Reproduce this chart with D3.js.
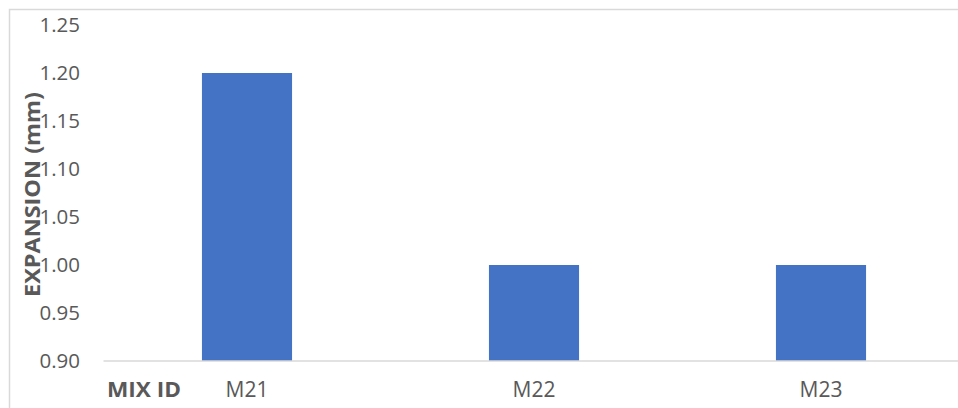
<!DOCTYPE html>
<html>
<head>
<meta charset="utf-8">
<script src="https://cdn.jsdelivr.net/npm/d3@7"></script>
<style>
  html, body { margin: 0; padding: 0; background: #fff; }
  svg { display: block; }
</style>
</head>
<body>
<svg id="chart" width="958" height="408"></svg>
<script>
const categories = ["M21", "M22", "M23"];
const values = [1.20, 1.00, 1.00];
const yTicks = [0.90, 0.95, 1.00, 1.05, 1.10, 1.15, 1.20, 1.25];
const yTitle = "EXPANSION (mm)";
const xTitle = "MIX ID";

const W = 958, H = 408;
const svg = d3.select("#chart");
const font = "'Open Sans', 'Noto Sans', sans-serif";

// chart border
svg.append("rect")
  .attr("x", 9.5).attr("y", 9.5)
  .attr("width", 980).attr("height", 440)
  .attr("fill", "#fff").attr("stroke", "#d9d9d9").attr("stroke-width", 1.5);

const plot = { left: 103.5, right: 964.5, top: 25, bottom: 361 };

const x = d3.scaleBand().domain(categories)
  .range([plot.left, plot.right]).paddingInner(0.686).paddingOuter(0.343);
const y = d3.scaleLinear().domain([0.90, 1.25]).range([plot.bottom, plot.top]);

// bars
svg.append("g").selectAll("rect").data(categories).join("rect")
  .attr("x", d => x(d))
  .attr("width", x.bandwidth())
  .attr("y", (d, i) => y(values[i]))
  .attr("height", (d, i) => y(0.90) - y(values[i]))
  .attr("fill", "#4472c4");

// x axis line
svg.append("line")
  .attr("x1", plot.left).attr("x2", plot.right)
  .attr("y1", y(0.90)).attr("y2", y(0.90))
  .attr("stroke", "#d9d9d9").attr("stroke-width", 1.5);

// y axis
const yAxis = d3.axisLeft(y).tickValues(yTicks).tickFormat(d3.format(".2f")).tickSize(0).tickPadding(0);
const gy = svg.append("g").attr("transform", "translate(80,0)").call(yAxis);
gy.select(".domain").remove();
gy.selectAll("text").attr("fill", "#595959").style("font-family", font).style("font-size", "20.5px");

// x axis labels
const xAxis = d3.axisBottom(x).tickSize(0).tickPadding(0);
const gx = svg.append("g").attr("transform", `translate(0,${plot.bottom})`).call(xAxis);
gx.select(".domain").remove();
gx.selectAll("text").attr("fill", "#595959").attr("dy", null).attr("y", 36)
  .style("font-family", font).style("font-size", "21px");

// axis titles
svg.append("text")
  .attr("transform", `translate(40,${(92 + 297) / 2}) rotate(-90)`)
  .attr("text-anchor", "middle")
  .attr("fill", "#595959")
  .attr("textLength", 205).attr("lengthAdjust", "spacingAndGlyphs")
  .style("font-family", font).style("font-size", "21.5px").style("font-weight", "bold")
  .text(yTitle);

svg.append("text")
  .attr("x", 107).attr("y", 397)
  .attr("fill", "#595959")
  .attr("textLength", 74).attr("lengthAdjust", "spacingAndGlyphs")
  .style("font-family", font).style("font-size", "21.5px").style("font-weight", "bold")
  .text(xTitle);
</script>
</body>
</html>
